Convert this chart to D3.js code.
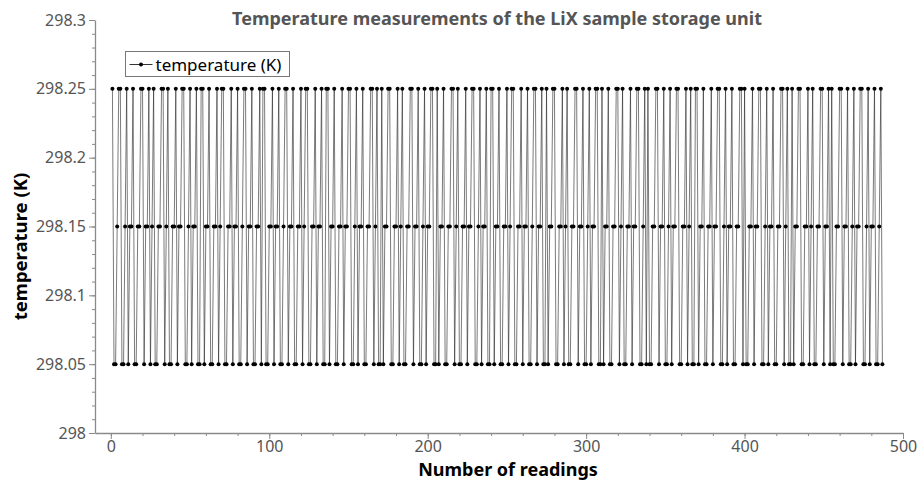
<!DOCTYPE html>
<html>
<head>
<meta charset="utf-8">
<script src="https://cdn.jsdelivr.net/npm/d3@7"></script>
<style>
  body { margin: 0; background: #fff; }
  text { font-family: "Noto Sans", "Open Sans", sans-serif; }
</style>
</head>
<body>
<svg id="chart" width="918" height="483"></svg>
<script>
// temperature (K) for each reading
let temperature = [
  298.25, 298.05, 298.05, 298.15, 298.25, 298.25, 298.05, 298.05, 298.15, 298.25, 298.05, 298.15, 298.15, 298.25, 298.05, 298.05, 298.15, 298.15,
  298.25, 298.25, 298.05, 298.15, 298.15, 298.25, 298.05, 298.15, 298.25, 298.05, 298.05, 298.15, 298.15, 298.25, 298.25, 298.05, 298.15,
  298.25, 298.05, 298.05, 298.15, 298.15, 298.25, 298.05, 298.15, 298.15, 298.25, 298.25, 298.05, 298.05, 298.15, 298.25, 298.05, 298.15, 298.15,
  298.25, 298.05, 298.05, 298.25, 298.25, 298.05, 298.15, 298.15, 298.25, 298.05, 298.05, 298.15, 298.15, 298.25, 298.05, 298.15,
  298.25, 298.25, 298.05, 298.05, 298.15, 298.15, 298.25, 298.05, 298.15, 298.15, 298.25, 298.05, 298.05, 298.15, 298.25, 298.25, 298.05, 298.15, 298.15,
  298.25, 298.05, 298.05, 298.15, 298.15, 298.25, 298.05, 298.25, 298.25, 298.05, 298.05, 298.15, 298.15, 298.25, 298.05, 298.15, 298.15,
  298.25, 298.05, 298.05, 298.15, 298.25, 298.25, 298.05, 298.15, 298.15, 298.25, 298.05, 298.05, 298.15, 298.15, 298.25, 298.05, 298.15,
  298.25, 298.25, 298.05, 298.05, 298.15, 298.15, 298.25, 298.05, 298.15, 298.15, 298.25, 298.05, 298.05, 298.25, 298.25, 298.05, 298.15, 298.15,
  298.25, 298.05, 298.05, 298.15, 298.15, 298.25, 298.05, 298.15, 298.15, 298.25, 298.25, 298.05, 298.05, 298.15, 298.25, 298.05, 298.15, 298.15,
  298.25, 298.05, 298.05, 298.15, 298.15, 298.25, 298.25, 298.05, 298.15, 298.25, 298.05, 298.05, 298.25, 298.05, 298.15, 298.15,
  298.25, 298.25, 298.05, 298.05, 298.15, 298.15, 298.25, 298.05, 298.15, 298.25, 298.05, 298.05, 298.15, 298.15, 298.25, 298.25, 298.05, 298.15, 298.15,
  298.25, 298.05, 298.05, 298.15, 298.25, 298.05, 298.15, 298.15, 298.25, 298.25, 298.05, 298.05, 298.25, 298.05, 298.15, 298.15,
  298.25, 298.05, 298.05, 298.15, 298.15, 298.25, 298.25, 298.05, 298.15, 298.25, 298.05, 298.05, 298.15, 298.15, 298.25, 298.05, 298.15, 298.15,
  298.25, 298.25, 298.05, 298.05, 298.15, 298.25, 298.05, 298.15, 298.15, 298.25, 298.05, 298.05, 298.25, 298.25, 298.05, 298.15, 298.15,
  298.25, 298.05, 298.05, 298.15, 298.15, 298.25, 298.05, 298.15, 298.25, 298.25, 298.05, 298.05, 298.15, 298.15, 298.25, 298.05, 298.15, 298.15,
  298.25, 298.05, 298.05, 298.15, 298.25, 298.25, 298.05, 298.15, 298.15, 298.25, 298.05, 298.05, 298.25, 298.05, 298.15, 298.15,
  298.25, 298.25, 298.05, 298.05, 298.15, 298.15, 298.25, 298.05, 298.15, 298.25, 298.05, 298.05, 298.15, 298.15, 298.25, 298.25, 298.05, 298.15, 298.15,
  298.25, 298.05, 298.05, 298.15, 298.25, 298.05, 298.15, 298.15, 298.25, 298.25, 298.05, 298.05, 298.25, 298.05, 298.15, 298.15,
  298.25, 298.05, 298.05, 298.15, 298.15, 298.25, 298.25, 298.05, 298.15, 298.25, 298.05, 298.05, 298.15, 298.15, 298.25, 298.05, 298.15, 298.15,
  298.25, 298.25, 298.05, 298.05, 298.15, 298.25, 298.05, 298.25, 298.05, 298.05, 298.15, 298.15, 298.25, 298.25, 298.05, 298.15, 298.15,
  298.25, 298.05, 298.05, 298.15, 298.25, 298.05, 298.15, 298.15, 298.25, 298.25, 298.05, 298.05, 298.15, 298.15, 298.25, 298.05, 298.15,
  298.25, 298.05, 298.05, 298.25, 298.25, 298.05, 298.15, 298.15, 298.25, 298.05, 298.05, 298.15, 298.15, 298.25, 298.05, 298.15, 298.15,
  298.25, 298.25, 298.05, 298.05, 298.15, 298.25, 298.05, 298.15, 298.15, 298.25, 298.05, 298.05, 298.15, 298.15, 298.25, 298.25, 298.05,
  298.25, 298.05, 298.05, 298.15, 298.15, 298.25, 298.05, 298.15, 298.15, 298.25, 298.25, 298.05, 298.05, 298.15, 298.25, 298.05, 298.15, 298.15,
  298.25, 298.05, 298.05, 298.15, 298.15, 298.25, 298.25, 298.05, 298.15, 298.25, 298.05, 298.05, 298.25, 298.05, 298.15, 298.15,
  298.25, 298.25, 298.05, 298.05, 298.15, 298.15, 298.25, 298.05, 298.15, 298.25, 298.05, 298.05, 298.15, 298.15, 298.25, 298.25, 298.05, 298.15, 298.15,
  298.25, 298.05, 298.25, 298.05, 298.05, 298.15, 298.15, 298.25, 298.25, 298.05, 298.15, 298.15, 298.25, 298.05, 298.05, 298.15,
  298.25, 298.05, 298.15, 298.15, 298.25, 298.25, 298.05, 298.05, 298.15, 298.25, 298.05, 298.15, 298.15, 298.25, 298.05, 298.05, 298.15, 298.25, 298.05
];

let xTicks = [0, 100, 200, 300, 400, 500];
let yTicks = [298, 298.05, 298.1, 298.15, 298.2, 298.25, 298.3];

let title = "Temperature measurements of the LiX sample storage unit";
let xLabel = "Number of readings";
let yLabel = "temperature (K)";
let seriesName = "temperature (K)";

document.addEventListener("DOMContentLoaded", (event) => {
  let points = temperature.map((t, i) => ({ n: i + 1, t: t }));
  create_chart(points);
});

function create_chart(points) {
  let svg = d3.select("#chart");

  let margin = { top: 20, right: 15, bottom: 50, left: 95 };
  let width = +svg.attr("width") - margin.left - margin.right;
  let height = +svg.attr("height") - margin.top - margin.bottom;

  let g = svg
    .append("g")
    .attr("transform", "translate(" + margin.left + "," + margin.top + ")");

  let x = d3.scaleLinear().domain([-10, 500]).range([0, width]);
  let y = d3.scaleLinear().domain([298, 298.3]).range([height, 0]);

  let axisColor = "#8a8a8a";
  let labelColor = "#555";

  // minor ticks
  g.append("g")
    .attr("transform", "translate(0," + height + ")")
    .call(d3.axisBottom(x).tickValues(d3.range(0, 501, 20)).tickSize(3).tickFormat(""))
    .call((a) => a.select(".domain").remove())
    .selectAll("line").attr("stroke", axisColor);

  g.append("g")
    .call(d3.axisLeft(y).tickValues(d3.range(0, 31).map((k) => 298 + k / 100)).tickSize(3).tickFormat(""))
    .call((a) => a.select(".domain").remove())
    .selectAll("line").attr("stroke", axisColor);

  // major ticks
  let xAxis = g.append("g")
    .attr("transform", "translate(0," + height + ")")
    .call(d3.axisBottom(x).tickValues(xTicks).tickSize(6).tickSizeOuter(0).tickPadding(2));

  let yAxis = g.append("g")
    .call(d3.axisLeft(y).tickValues(yTicks).tickSize(6).tickSizeOuter(0).tickPadding(3)
      .tickFormat((d) => String(+d.toFixed(2))));

  [xAxis, yAxis].forEach(function (a) {
    a.select(".domain").attr("stroke", axisColor).attr("stroke-width", 1.3);
    a.selectAll(".tick line").attr("stroke", axisColor);
    a.selectAll(".tick text")
      .attr("fill", labelColor)
      .style("font-size", "16px")
      .style("font-family", "'Noto Sans', sans-serif");
  });

  // the line
  let line = d3.line()
    .x((d) => x(d.n))
    .y((d) => y(d.t));

  g.append("path")
    .datum(points)
    .attr("fill", "none")
    .attr("stroke", "#222")
    .attr("stroke-width", 0.6)
    .attr("d", line);

  g.selectAll(".dot")
    .data(points)
    .enter()
    .append("circle")
    .attr("class", "dot")
    .attr("cx", (d) => x(d.n))
    .attr("cy", (d) => y(d.t))
    .attr("r", 2)
    .attr("fill", "#000");

  // legend
  let legend = svg.append("g").attr("transform", "translate(125.5,51.5)");
  legend.append("rect")
    .attr("width", 164)
    .attr("height", 25)
    .attr("fill", "#fff")
    .attr("stroke", "#777");
  legend.append("line")
    .attr("x1", 4).attr("x2", 27)
    .attr("y1", 13).attr("y2", 13)
    .attr("stroke", "#000")
    .attr("stroke-width", 0.8);
  legend.append("circle")
    .attr("cx", 15.5).attr("cy", 13).attr("r", 2).attr("fill", "#000");
  legend.append("text")
    .attr("x", 30)
    .attr("y", 19)
    .style("font-size", "17px")
    .attr("fill", "#000")
    .text(seriesName);

  // title
  svg.append("text")
    .attr("x", 497)
    .attr("y", 25)
    .style("text-anchor", "middle")
    .style("font-size", "18px")
    .style("font-weight", "bold")
    .attr("fill", "#555")
    .text(title);

  // axis titles
  svg.append("text")
    .attr("x", 508)
    .attr("y", 476)
    .style("text-anchor", "middle")
    .style("font-size", "18px")
    .style("font-weight", "bold")
    .text(xLabel);

  svg.append("text")
    .attr("transform", "translate(27," + (margin.top + height / 2 + 20) + ") rotate(-90)")
    .style("text-anchor", "middle")
    .style("font-size", "18.5px")
    .style("font-weight", "bold")
    .text(yLabel);
}
</script>
</body>
</html>
